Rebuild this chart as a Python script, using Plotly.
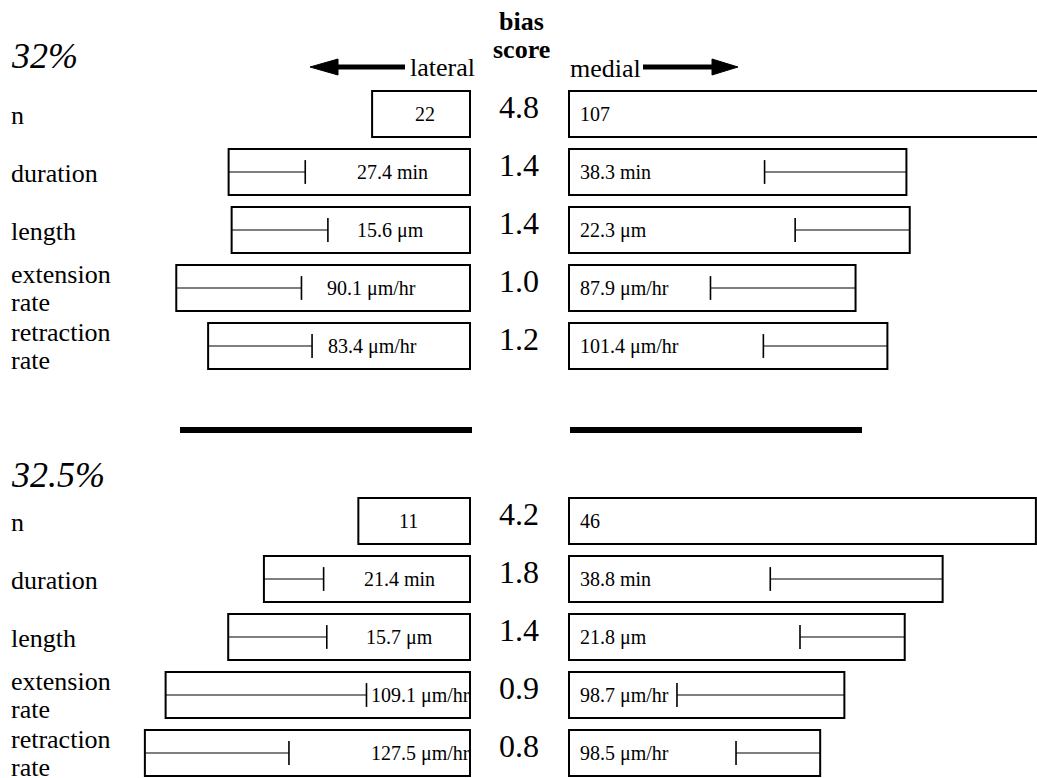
import plotly.graph_objects as go

# ---------------- data ----------------
PANEL_TITLES = ["32%", "32.5%"]
ROW_LABELS = [["n"], ["duration"], ["length"], ["extension", "rate"], ["retraction", "rate"]]
UNITS = ["", " min", " μm", " μm/hr", " μm/hr"]

# 32 %
BIAS_32 = [4.8, 1.4, 1.4, 1.0, 1.2]
LATERAL_32 = [22, 27.4, 15.6, 90.1, 83.4]
MEDIAL_32 = [107, 38.3, 22.3, 87.9, 101.4]
LATERAL_ERR_32 = [None, 8.7, 6.3, 38.4, 33.1]
MEDIAL_ERR_32 = [None, 16.1, 7.5, 44.5, 39.5]

# 32.5 %
BIAS_325 = [4.2, 1.8, 1.4, 0.9, 0.8]
LATERAL_325 = [11, 21.4, 15.7, 109.1, 127.5]
MEDIAL_325 = [46, 38.8, 21.8, 98.7, 98.5]
LATERAL_ERR_325 = [None, 6.2, 6.4, 72.0, 56.5]
MEDIAL_ERR_325 = [None, 17.9, 6.8, 60.0, 33.0]

# ---------------- layout / style constants ----------------
W, H = 1037, 778
FIG_W = 1070          # a little wider than the window so the longest bar runs off the edge
FONT = "Liberation Serif, Times New Roman, serif"
LAT_EDGE = 470      # where lateral bars end (they grow to the left)
MED_EDGE = 569      # where medial bars start (they grow to the right)
BIAS_X = 519
ROW_STEP = 58
BAR_H = 46
PANEL_FIRST_ROW = [114, 521]
PANEL_TITLE_Y = [56, 475]
ROW_SCALE = [[4.45, 8.81, 15.28, 3.26, 3.14],     # px per unit, per row
             [10.15, 9.63, 15.4, 2.79, 2.55]]
LAT_LABEL_CX = [[425, 392, 390, 371, 372],
                [408, 399, 399, 420, 420]]

panels = [
    dict(bias=BIAS_32, lat=LATERAL_32, med=MEDIAL_32, lerr=LATERAL_ERR_32, merr=MEDIAL_ERR_32),
    dict(bias=BIAS_325, lat=LATERAL_325, med=MEDIAL_325, lerr=LATERAL_ERR_325, merr=MEDIAL_ERR_325),
]

fig = go.Figure()
annotations = []
shapes = []


def txt(x, y, text, size, xanchor="left", bold=False, italic=False):
    t = f"<b>{text}</b>" if bold else text
    t = f"<i>{t}</i>" if italic else t
    annotations.append(dict(x=x, y=y, xref="x", yref="y", text=t, showarrow=False,
                            xanchor=xanchor, yanchor="middle", borderpad=0,
                            font=dict(family=FONT, size=size, color="black")))


for p, d in enumerate(panels):
    ys = [PANEL_FIRST_ROW[p] + i * ROW_STEP for i in range(5)]
    sc = ROW_SCALE[p]
    lat_len = [v * s for v, s in zip(d["lat"], sc)]
    med_len = [v * s for v, s in zip(d["med"], sc)]

    # lateral bars (grow leftwards)
    fig.add_trace(go.Bar(orientation="h", y=ys, x=[-l for l in lat_len], base=[LAT_EDGE] * 5,
                         width=[BAR_H] * 5, marker=dict(color="white", line=dict(color="black", width=2)),
                         showlegend=False, hoverinfo="skip"))
    # medial bars (grow rightwards)
    fig.add_trace(go.Bar(orientation="h", y=ys, x=med_len, base=[MED_EDGE] * 5,
                         width=[BAR_H] * 5, marker=dict(color="white", line=dict(color="black", width=2)),
                         showlegend=False, hoverinfo="skip"))

    # whiskers
    wx, wy, tx, ty = [], [], [], []
    for i in range(5):
        if d["lerr"][i] is not None:
            x0 = LAT_EDGE - lat_len[i]
            x1 = x0 + d["lerr"][i] * sc[i]
            wx += [x0, x1, None]; wy += [ys[i], ys[i], None]
            tx.append(x1); ty.append(ys[i])
        if d["merr"][i] is not None:
            x1 = MED_EDGE + med_len[i]
            x0 = x1 - d["merr"][i] * sc[i]
            wx += [x0, x1, None]; wy += [ys[i], ys[i], None]
            tx.append(x0); ty.append(ys[i])
    fig.add_trace(go.Scatter(x=wx, y=wy, mode="lines", line=dict(color="black", width=1.2),
                             showlegend=False, hoverinfo="skip"))
    fig.add_trace(go.Scatter(x=tx, y=ty, mode="markers",
                             marker=dict(symbol="line-ns", size=17, line=dict(color="black", width=1.6)),
                             showlegend=False, hoverinfo="skip"))

    # texts
    txt(10, PANEL_TITLE_Y[p], PANEL_TITLES[p], 36, italic=True)
    for i in range(5):
        lab = ROW_LABELS[i]
        if len(lab) == 1:
            txt(10, ys[i] + 1, lab[0], 26)
        else:
            txt(10, ys[i] - 14, lab[0], 26)
            txt(10, ys[i] + 14, lab[1], 26)
        txt(BIAS_X, ys[i] - 7, f"{d['bias'][i]:.1f}", 32, xanchor="center")
        lv = d["lat"][i]
        mv = d["med"][i]
        ltxt = f"{lv:g}{UNITS[i]}" if i == 0 else f"{lv:.1f}{UNITS[i]}"
        mtxt = f"{mv:g}{UNITS[i]}" if i == 0 else f"{mv:.1f}{UNITS[i]}"
        txt(LAT_LABEL_CX[p][i], ys[i], ltxt, 20, xanchor="center")
        txt(MED_EDGE + 10, ys[i], mtxt, 20)

# header
txt(521, 21, "bias", 26, xanchor="center", bold=True)
txt(521, 49, "score", 26, xanchor="center", bold=True)
txt(476, 67, "lateral", 26, xanchor="right")
txt(569, 68, "medial", 26)

# direction arrows
shapes.append(dict(type="line", xref="x", yref="y", x0=336, x1=405, y0=67, y1=67,
                   line=dict(color="black", width=5)))
shapes.append(dict(type="path", xref="x", yref="y", path="M 310,67 L 338,59 L 338,75 Z",
                   fillcolor="black", line=dict(color="black", width=1)))
shapes.append(dict(type="line", xref="x", yref="y", x0=643, x1=714, y0=67, y1=67,
                   line=dict(color="black", width=5)))
shapes.append(dict(type="path", xref="x", yref="y", path="M 738,67 L 712,59 L 712,75 Z",
                   fillcolor="black", line=dict(color="black", width=1)))

# panel separator
shapes.append(dict(type="line", xref="x", yref="y", x0=180, x1=472, y0=430, y1=430,
                   line=dict(color="black", width=6)))
shapes.append(dict(type="line", xref="x", yref="y", x0=570, x1=862, y0=430, y1=430,
                   line=dict(color="black", width=6)))

fig.update_layout(
    width=FIG_W, height=H, autosize=False,
    margin=dict(l=0, r=0, t=0, b=0),
    paper_bgcolor="white", plot_bgcolor="white",
    barmode="overlay", showlegend=False,
    xaxis=dict(range=[0, FIG_W], visible=False, fixedrange=True),
    yaxis=dict(range=[H, 0], visible=False, fixedrange=True),
    annotations=annotations, shapes=shapes,
)

fig.write_html("out.html", config={"displayModeBar": False},
               post_script="document.body.style.margin='0';document.body.style.overflow='hidden';")
